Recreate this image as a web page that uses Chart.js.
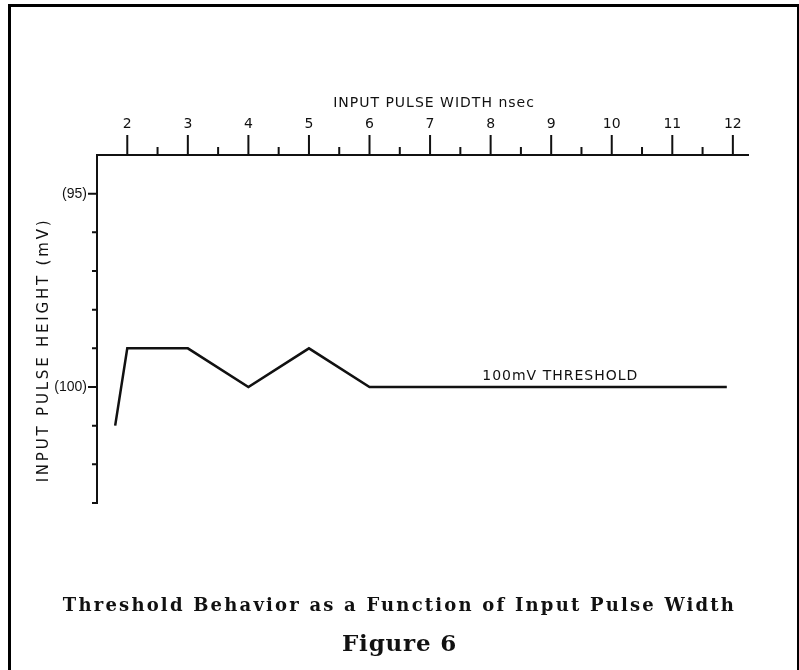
<!DOCTYPE html>
<html>
<head>
<meta charset="utf-8">
<script src="https://cdn.jsdelivr.net/npm/chart.js@4.4.1/dist/chart.umd.min.js"></script>
<style>
  html, body { margin: 0; padding: 0; background: #fff; }
  #wrap { position: relative; width: 799px; height: 670px; overflow: hidden; }
  #frame { position: absolute; left: 8px; top: 4px; width: 786px; height: 680px;
           border-top: 3px solid #000; border-left: 3px solid #000; border-right: 3px solid #000; }
  #box { position: absolute; left: 0; top: 0; width: 799px; height: 670px; }
  .cap { position: absolute; left: 0; width: 799px; text-align: center; color: #111;
         font-family: "DejaVu Serif", "Liberation Serif", serif; font-weight: bold; }
  #cap1 { top: 594px; font-size: 18px; letter-spacing: 2.2px; }
  #cap2 { top: 629px; font-size: 23px; letter-spacing: 0.8px; }
</style>
</head>
<body>
<div id="wrap">
  <div id="frame"></div>
  <div id="box"><canvas id="fig6"></canvas></div>
  <div class="cap" id="cap1">Threshold Behavior as a Function of Input Pulse Width</div>
  <div class="cap" id="cap2">Figure 6</div>
</div>
<script>
// values
const pulseWidth = [1.8, 2, 3, 4, 5, 6, 11.9];          // nsec
const pulseHeight = [101, 99, 99, 100, 99, 100, 100];   // mV (axis runs downward)
const xMajor = [2, 3, 4, 5, 6, 7, 8, 9, 10, 11, 12];
const xMinor = [2.5, 3.5, 4.5, 5.5, 6.5, 7.5, 8.5, 9.5, 10.5, 11.5];
const yMajor = [95, 100];
const yMinor = [96, 97, 98, 99, 101, 102, 103];
const yLabels = { 95: '(95)', 100: '(100)' };

const ink = '#111';
const lettering = '"DejaVu Sans", "Liberation Sans", sans-serif';

const tickMarks = {
    id: 'tickMarks',
    afterDraw(chart) {
        const c = chart.ctx;
        const x = chart.scales.x, y = chart.scales.y;
        const top = chart.chartArea.top, left = chart.chartArea.left;
        c.save();
        c.strokeStyle = ink;
        c.lineWidth = 2;
        c.beginPath();
        xMajor.forEach(v => { const p = x.getPixelForValue(v); c.moveTo(p, top); c.lineTo(p, top - 20); });
        xMinor.forEach(v => { const p = x.getPixelForValue(v); c.moveTo(p, top); c.lineTo(p, top - 8); });
        yMajor.forEach(v => { const p = y.getPixelForValue(v); c.moveTo(left, p); c.lineTo(left - 9, p); });
        yMinor.forEach(v => { const p = y.getPixelForValue(v); c.moveTo(left, p); c.lineTo(left - 5, p); });
        c.stroke();

        c.fillStyle = ink;
        c.font = '14px ' + lettering;
        c.textAlign = 'center';
        c.textBaseline = 'alphabetic';
        c.letterSpacing = '1px';
        c.fillText('INPUT PULSE WIDTH nsec', 434, 107);
        c.fillText('100mV THRESHOLD', x.getPixelForValue(9.15), y.getPixelForValue(100) - 7);

        c.translate(44, 350);
        c.rotate(-Math.PI / 2);
        c.textBaseline = 'middle';
        c.font = '15px ' + lettering;
        c.letterSpacing = '2.8px';
        c.fillText('INPUT PULSE HEIGHT (mV)', 0, 0);
        c.restore();
    }
};

new Chart(document.getElementById('fig6'), {
    type: 'line',
    data: {
        datasets: [{
            data: pulseWidth.map((w, i) => ({ x: w, y: pulseHeight[i] })),
            borderColor: ink,
            borderWidth: 2.5,
            borderJoinStyle: 'miter',
            pointRadius: 0,
            tension: 0,
            fill: false
        }]
    },
    options: {
        responsive: true,
        maintainAspectRatio: false,
        animation: false,
        layout: { padding: { left: 0, top: 0, right: 51, bottom: 167 } },
        plugins: { legend: { display: false }, tooltip: { enabled: false } },
        scales: {
            x: {
                type: 'linear',
                position: 'top',
                min: 1.5,
                max: 12.25,
                afterFit(s) { s.height = 155; },
                afterBuildTicks(s) { s.ticks = xMajor.map(v => ({ value: v })); },
                grid: { display: false, drawTicks: false },
                border: { display: true, color: ink, width: 2 },
                ticks: {
                    padding: 22,
                    color: ink,
                    font: { family: lettering, size: 14 },
                    maxRotation: 0,
                    autoSkip: false,
                    callback: v => String(v)
                }
            },
            y: {
                type: 'linear',
                reverse: true,
                min: 94,
                max: 103,
                afterFit(s) { s.width = 97; },
                afterBuildTicks(s) { s.ticks = yMajor.map(v => ({ value: v })); },
                grid: { display: false, drawTicks: false },
                border: { display: true, color: ink, width: 2 },
                ticks: {
                    padding: 10,
                    color: ink,
                    font: { family: '"Liberation Sans", sans-serif', size: 14 },
                    autoSkip: false,
                    callback: v => yLabels[v] || ''
                }
            }
        }
    },
    plugins: [tickMarks]
});
</script>
</body>
</html>
